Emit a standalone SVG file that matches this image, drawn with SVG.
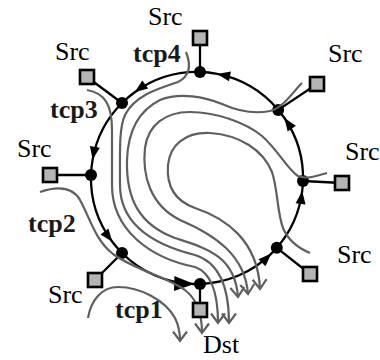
<svg xmlns="http://www.w3.org/2000/svg" width="380" height="360" viewBox="0 0 380 360">
  <style>
    .ring { fill: none; stroke: #000; stroke-width: 2.3; marker-mid: url(#ah); }
    .ring.big { marker-mid: url(#ahBig); }
    .spoke { stroke: #000; stroke-width: 2.3; }
    .flow { fill: none; stroke: #5f5f5f; stroke-width: 2.2; marker-end: url(#vee); }
    .router { fill: #000; }
    .host { fill: #b4b4b4; stroke: #000; stroke-width: 2.6; }
    .lbl { font-family: "Liberation Serif", "Times New Roman", serif; font-size: 26px; fill: #000; }
    .tcp { font-family: "Liberation Serif", "Times New Roman", serif; font-size: 26px; font-weight: bold; fill: #1a1a1a; }
  </style>
  <defs>
    <marker id="ah" markerUnits="userSpaceOnUse" markerWidth="30" markerHeight="30" viewBox="-15 -15 30 30" refX="0" refY="0" orient="auto" overflow="visible">
      <path d="M0,0 L-13,-5 L-13,5 Z" fill="#000"/>
    </marker>
    <marker id="ahBig" markerUnits="userSpaceOnUse" markerWidth="44" markerHeight="44" viewBox="-22 -22 44 44" refX="0" refY="0" orient="auto" overflow="visible">
      <path d="M0,0 L-20,-7.5 L-20,7.5 Z" fill="#000"/>
    </marker>
    <marker id="vee" markerUnits="userSpaceOnUse" markerWidth="24" markerHeight="24" viewBox="-12 -12 24 24" refX="0" refY="0" orient="auto" overflow="visible">
      <path d="M-9.5,-7 L0,0 L-9.5,7" fill="none" stroke="#5f5f5f" stroke-width="2.2"/>
    </marker>
  </defs>

  <!-- ring links and host spokes -->
  <g id="connectors">
    <path class="ring" d="M200,72 A106,106 0 0 0 134.7,92.2 A106,106 0 0 0 122,103"/>
    <path class="ring" d="M122,103 A106,106 0 0 0 92.6,159.6 A106,106 0 0 0 91,175"/>
    <path class="ring" d="M91,175 A106,106 0 0 0 112.3,241.8 A106,106 0 0 0 122,253"/>
    <path class="ring big" d="M122,253 A106,106 0 0 0 194.2,284 A106,106 0 0 0 200,284"/>
    <path class="ring" d="M200,284 A106,106 0 0 0 271.3,253.6 A106,106 0 0 0 276.8,247.8"/>
    <path class="ring" d="M276.8,247.8 A106,106 0 0 0 302.2,190.9 A106,106 0 0 0 303,181"/>
    <path class="ring" d="M303,181 A106,106 0 0 0 284.4,118 A106,106 0 0 0 278.2,109.9"/>
    <path class="ring" d="M278.2,109.9 A106,106 0 0 0 217.2,73.9 A106,106 0 0 0 200,72"/>

    <line class="spoke" x1="200" y1="72" x2="200" y2="38"/>
    <line class="spoke" x1="278.2" y1="109.9" x2="317" y2="84"/>
    <line class="spoke" x1="303" y1="181" x2="342" y2="183"/>
    <line class="spoke" x1="276.8" y1="247.8" x2="310" y2="274"/>
    <line class="spoke" x1="200" y1="284" x2="200" y2="310"/>
    <line class="spoke" x1="122" y1="253" x2="95" y2="280"/>
    <line class="spoke" x1="91" y1="175" x2="50" y2="175"/>
    <line class="spoke" x1="122" y1="103" x2="87" y2="77"/>
  </g>

  <!-- routers on the ring -->
  <g id="router-n"><circle class="router" cx="200" cy="72" r="6"/></g>
  <g id="router-ne"><circle class="router" cx="278.2" cy="109.9" r="6"/></g>
  <g id="router-e"><circle class="router" cx="303" cy="181" r="6"/></g>
  <g id="router-se"><circle class="router" cx="276.8" cy="247.8" r="6"/></g>
  <g id="router-s"><circle class="router" cx="200" cy="284" r="6"/></g>
  <g id="router-sw"><circle class="router" cx="122" cy="253" r="6"/></g>
  <g id="router-w"><circle class="router" cx="91" cy="175" r="6"/></g>
  <g id="router-nw"><circle class="router" cx="122" cy="103" r="6"/></g>

  <!-- traffic flows towards the destination -->
  <g id="flows">
    <path class="flow" id="flow-tcp1" d="M88,318 C91,300 102,287 118,287 C140,287 165,300 175,318 C179,326 180,333 180,341"/>
    <path class="flow" id="flow-tcp2" d="M40,192 C55,187 72,186 80,200 C90,218 95,240 113,254 C135,270 165,276 185,290 C198,300 202,315 202,333"/>
    <path class="flow" id="flow-tcp3" d="M87,90 C105,93 112,105 112,130 L112,185 C112,230 150,258 195,267 C212,273 218,295 218,323"/>
    <path class="flow" id="flow-tcp4" d="M186,52 C190,62 192,75 178,82 C160,88 135,95 125,115 C119,128 120,150 120,185 C120,225 155,245 195,255 C218,262 229,285 229,323"/>
    <path class="flow" id="flow-ne" d="M302,83 C292,93 283,108 270,111 C255,114 240,112 222,104 C205,97 180,92 160,100 C140,110 128,130 127,160 C126,200 140,225 175,238 C205,248 235,255 238,297"/>
    <path class="flow" id="flow-e" d="M327,173 C318,175 308,180 298,176 C288,170 278,150 262,136 C245,122 215,112 190,112 C165,112 148,125 145,148 C142,175 150,205 180,220 C215,235 245,255 248,294"/>
    <path class="flow" id="flow-se" d="M310,253 C298,248 288,240 283,228 C277,212 278,190 272,172 C263,150 240,135 210,133 C185,132 170,145 168,165 C166,190 178,202 195,208 C225,218 258,240 260,289"/>
  </g>

  <!-- hosts -->
  <g id="src-n"><rect class="host" x="193" y="31" width="14" height="14"/><text class="lbl" x="148" y="25">Src</text><text class="tcp" x="133" y="62">tcp4</text></g>
  <g id="src-ne"><rect class="host" x="310" y="77" width="14" height="14"/><text class="lbl" x="328" y="62">Src</text></g>
  <g id="src-e"><rect class="host" x="335" y="176" width="14" height="14"/><text class="lbl" x="345" y="160">Src</text></g>
  <g id="src-se"><rect class="host" x="303" y="267" width="14" height="14"/><text class="lbl" x="337" y="263">Src</text></g>
  <g id="dst"><rect class="host" x="193" y="303" width="14" height="14"/><text class="lbl" x="203" y="353">Dst</text></g>
  <g id="src-sw"><rect class="host" x="88" y="273" width="14" height="14"/><text class="lbl" x="48" y="303">Src</text><text class="tcp" x="115" y="318">tcp1</text></g>
  <g id="src-w"><rect class="host" x="43" y="168" width="14" height="14"/><text class="lbl" x="17" y="157">Src</text><text class="tcp" x="28" y="232">tcp2</text></g>
  <g id="src-nw"><rect class="host" x="80" y="70" width="14" height="14"/><text class="lbl" x="55" y="60">Src</text><text class="tcp" x="50" y="118">tcp3</text></g>
</svg>
